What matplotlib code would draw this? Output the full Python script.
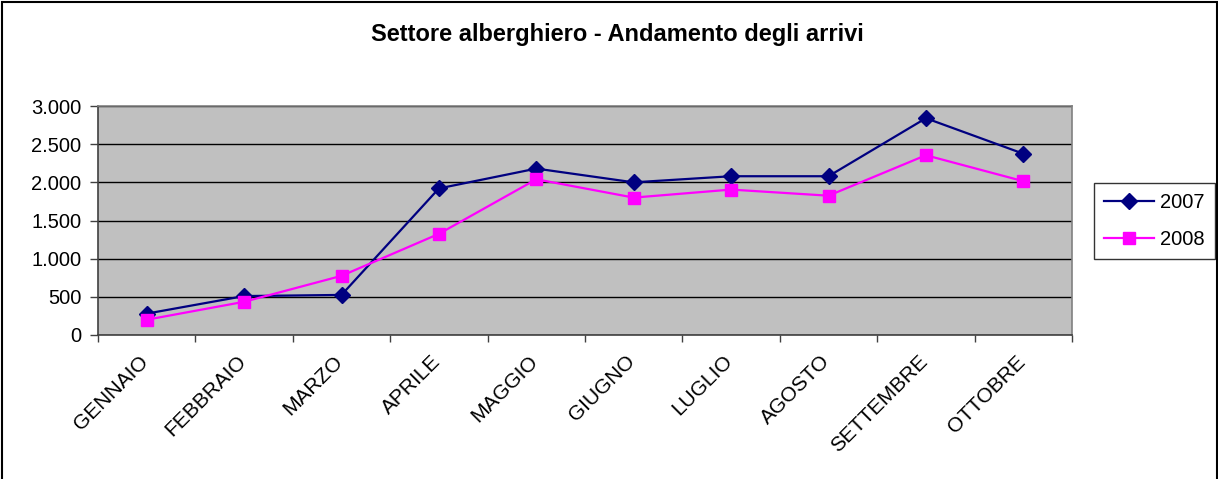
import matplotlib
matplotlib.use("Agg")
import matplotlib.pyplot as plt
from matplotlib.patches import Rectangle
from matplotlib.ticker import FuncFormatter, FixedLocator
from matplotlib.transforms import ScaledTranslation

months = ["GENNAIO", "FEBBRAIO", "MARZO", "APRILE", "MAGGIO", "GIUGNO",
          "LUGLIO", "AGOSTO", "SETTEMBRE", "OTTOBRE"]
arrivi_2007 = [280, 510, 525, 1920, 2180, 2000, 2080, 2080, 2840, 2375]
arrivi_2008 = [200, 435, 775, 1325, 2040, 1800, 1905, 1825, 2355, 2015]
series_labels = ["2007", "2008"]
title = "Settore alberghiero - Andamento degli arrivi"

plt.rcParams['font.family'] = ['Liberation Sans', 'DejaVu Sans']

W, H = 1218, 479
fig = plt.figure(figsize=(W / 100, H / 100), dpi=100)
ax = fig.add_axes([98 / W, 1 - 335 / H, (1072 - 98) / W, (335 - 106) / H])
ax.set_facecolor("#C0C0C0")

x = list(range(len(months)))
ax.plot(x, arrivi_2007, color="#000080", lw=1.6, marker="D", markersize=8,
        label=series_labels[0], zorder=3)
ax.plot(x, arrivi_2008, color="#FF00FF", lw=1.6, marker="s", markersize=8,
        label=series_labels[1], zorder=3)

ax.set_xlim(-0.5, len(months) - 0.5)
ax.set_ylim(0, 3000)
ax.set_yticks(range(0, 3001, 500))
ax.yaxis.set_major_formatter(FuncFormatter(lambda v, p: f"{int(v):,}".replace(",", ".")))
ax.grid(axis="y", color="#000000", lw=1.0, zorder=1)
ax.set_axisbelow(True)

ax.set_xticks(x)
ax.set_xticklabels(months, rotation=45, ha="right", rotation_mode="anchor", fontsize=15)
ax.tick_params(axis="x", which="major", length=0, pad=12)
shift = ScaledTranslation(-8 / 100, 0, fig.dpi_scale_trans)
for lab in ax.get_xticklabels():
    lab.set_transform(lab.get_transform() + shift)
ax.xaxis.set_minor_locator(FixedLocator([i - 0.5 for i in range(len(months) + 1)]))
ax.tick_params(axis="x", which="minor", length=5, width=1, color="#404040", direction="out")
ax.tick_params(axis="y", length=6, width=1, color="#404040", labelsize=14.5, pad=6)

for s in ["left", "bottom"]:
    ax.spines[s].set_color("#404040")
    ax.spines[s].set_linewidth(1.2)
for s in ["top", "right"]:
    ax.spines[s].set_color("#808080")
    ax.spines[s].set_linewidth(1.2)

fig.text(617 / W, 1 - 35 / H, title, ha="center", va="center",
         fontsize=17, fontweight="bold")

leg = fig.legend(loc="upper left", bbox_to_anchor=(1094 / W, 1 - 183 / H),
                 fontsize=14.5, frameon=True, fancybox=False, borderpad=0.5,
                 handlelength=2.5, handletextpad=0.3, labelspacing=0.9,
                 borderaxespad=0)
leg.get_frame().set_edgecolor("#000000")
leg.get_frame().set_linewidth(1.0)

fig.patches.append(Rectangle((1.5 / W, -0.05), (W - 3) / W, 1.05 - 2 / H,
                             transform=fig.transFigure, fill=False,
                             edgecolor="#000000", lw=1.5))

fig.savefig("out.png", dpi=100)
